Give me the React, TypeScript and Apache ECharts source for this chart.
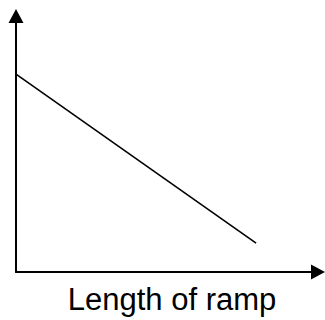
import React, { useEffect, useRef } from "react";
import * as echarts from "echarts";

const xValues = [0, 79.5];
const yValues = [77.3, 11.3];
const xLabel = "Length of ramp";

export default function App() {
  const ref = useRef<HTMLDivElement>(null);
  useEffect(() => {
    if (!ref.current) return;
    const chart = echarts.init(ref.current, undefined, { renderer: "svg" });
    const axisCommon = {
      type: "value" as const,
      min: 0,
      max: 100,
      axisLine: {
        show: true,
        symbol: ["none", "triangle"],
        symbolSize: [15, 14],
        lineStyle: { color: "#000", width: 2 },
      },
      axisTick: { show: false },
      axisLabel: { show: false },
      splitLine: { show: false },
    };
    chart.setOption({
      animation: false,
      grid: { left: 16, right: 7, top: 16, bottom: 48, containLabel: false },
      xAxis: { ...axisCommon },
      yAxis: { ...axisCommon },
      series: [
        {
          type: "line",
          data: xValues.map((x, i) => [x, yValues[i]]),
          symbol: "none",
          lineStyle: { color: "#000", width: 1.6 },
        },
      ],
      graphic: [
        {
          type: "text",
          x: 172,
          y: 299,
          style: {
            text: xLabel,
            fill: "#000",
            font: "31px 'Liberation Sans', Arial, sans-serif",
            align: "center",
            verticalAlign: "middle",
          },
        },
      ],
    });
    return () => chart.dispose();
  }, []);
  return <div ref={ref} style={{ width: 325, height: 320, position: "absolute", left: 0, top: 0 }} />;
}
